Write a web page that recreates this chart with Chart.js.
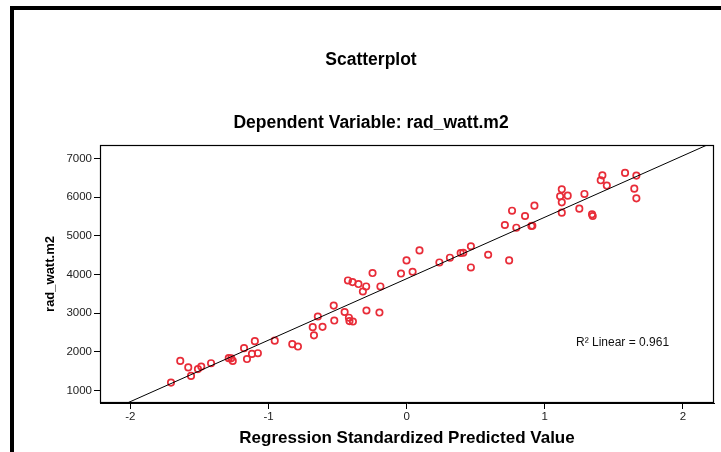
<!DOCTYPE html>
<html>
<head>
<meta charset="utf-8">
<script src="https://cdn.jsdelivr.net/npm/chart.js@4.4.1/dist/chart.umd.min.js"></script>
<style>
  html, body { margin: 0; padding: 0; background: #ffffff; }
  #wrap { width: 721px; height: 452px; }
</style>
</head>
<body>
<div id="wrap"><canvas id="c" width="721" height="452"></canvas></div>
<script>
// Regression standardized predicted value (x) and observed rad_watt.m2 (y)
const predictedZ = [
  -1.706, -1.639, -1.581, -1.561, -1.511, -1.487, -1.416, -1.288, -1.270, -1.259,
  -1.177, -1.156, -1.120, -1.099, -1.077, -0.955, -0.828, -0.787, -0.680, -0.671,
  -0.643, -0.609, -0.528, -0.524, -0.449, -0.418, -0.414, -0.389, -0.291, -0.197,
  -0.425, -0.392, -0.349, -0.293, -0.317, -0.247, -0.190, -0.041, -0.001, 0.043,
  0.093, 0.237, 0.313, 0.391, 0.410, 0.465, 0.465, 0.590, 0.742, 0.711,
  0.763, 0.794, 0.857, 0.903, 0.910, 0.925, 1.123, 1.111, 1.166, 1.123,
  1.123, 1.250, 1.287, 1.342, 1.347, 1.405, 1.417, 1.449, 1.581, 1.663,
  1.648, 1.663
];
const observedRad = [
  1207, 1769, 1601, 1381, 1557, 1621, 1709, 1839, 1834, 1769,
  2098, 1816, 1950, 2279, 1968, 2292, 2201, 2139, 2641, 2429,
  2916, 2649, 3198, 2812, 3032, 2885, 2797, 2786, 3071, 3019,
  3848, 3806, 3755, 3693, 3563, 4040, 3693, 4027, 4366, 4073,
  4625, 4314, 4436, 4557, 4565, 4733, 4184, 4513, 4366, 5282,
  5652, 5212, 5515, 5256, 5264, 5782, 6204, 6023, 6041, 5867,
  5601, 5704, 6085, 5557, 5515, 6437, 6566, 6300, 6629, 6559,
  6222, 5971
];
// Fit line (R² Linear = 0.961)
const fitIntercept = 3894;
const fitSlope = 1589;
const rSquared = 0.961;

const xTicks = [-2, -1, 0, 1, 2];
const yTicks = [1000, 2000, 3000, 4000, 5000, 6000, 7000];
const xMin = -2.22, xMax = 2.225;
const yMin = 680, yMax = 7350;

const titleText = 'Scatterplot';
const subtitleText = 'Dependent Variable: rad_watt.m2';
const xTitle = 'Regression Standardized Predicted Value';
const yTitle = 'rad_watt.m2';

const FONT = "'Liberation Sans', Arial, Helvetica, sans-serif";

const points = predictedZ.map((x, i) => ({ x: x, y: observedRad[i] }));
const fitLine = [xMin, xMax].map(x => ({ x: x, y: fitIntercept + fitSlope * x }));

const framePlugin = {
  id: 'frames',
  beforeDraw(chart) {
    const ctx = chart.ctx;
    ctx.save();
    ctx.fillStyle = '#ffffff';
    ctx.fillRect(0, 0, chart.width, chart.height);
    ctx.fillStyle = '#000000';
    ctx.fillRect(10, 6, 4, chart.height - 6);
    ctx.fillRect(10, 6, chart.width - 10, 4);
    ctx.restore();
  },
  afterDraw(chart) {
    const ctx = chart.ctx;
    const a = chart.chartArea;
    ctx.save();
    ctx.strokeStyle = '#000000';
    ctx.lineWidth = 1.2;
    ctx.strokeRect(a.left + 0.5, a.top + 0.5, a.right - a.left - 1, a.bottom - a.top - 1);
    ctx.fillStyle = '#111111';
    ctx.font = '12px ' + FONT;
    ctx.textBaseline = 'middle';
    ctx.textAlign = 'left';
    ctx.fillText('R\u00B2 Linear = ' + rSquared.toFixed(3), a.left + 476, a.top + 198);
    ctx.restore();
  }
};

new Chart(document.getElementById('c'), {
  type: 'scatter',
  data: {
    datasets: [
      {
        label: 'rad_watt.m2',
        data: points,
        showLine: false,
        pointStyle: 'circle',
        pointRadius: 3.2,
        pointHoverRadius: 3.2,
        pointBorderWidth: 1.7,
        borderColor: 'rgb(232,44,56)',
        backgroundColor: 'rgba(255,255,255,0)',
        order: 2
      },
      {
        label: 'fit',
        type: 'line',
        data: fitLine,
        borderColor: '#000000',
        borderWidth: 1,
        pointRadius: 0,
        fill: false,
        tension: 0,
        order: 1
      }
    ]
  },
  options: {
    responsive: false,
    animation: false,
    devicePixelRatio: 1,
    layout: { padding: { left: 28, right: 7, top: 0, bottom: 0 } },
    plugins: {
      legend: { display: false },
      tooltip: { enabled: false },
      title: {
        display: true,
        text: titleText,
        color: '#000000',
        font: { family: FONT, size: 17.5, weight: 'bold', lineHeight: 1.2 },
        padding: { top: 50, bottom: 0 }
      },
      subtitle: {
        display: true,
        text: subtitleText,
        color: '#000000',
        font: { family: FONT, size: 17.5, weight: 'bold', lineHeight: 1.2 },
        padding: { top: 42, bottom: 11 }
      }
    },
    scales: {
      x: {
        type: 'linear',
        min: xMin,
        max: xMax,
        afterBuildTicks(scale) { scale.ticks = xTicks.map(v => ({ value: v })); },
        afterFit(scale) { scale.height = 49; },
        ticks: {
          color: '#222222',
          font: { family: FONT, size: 11.5 },
          padding: 1,
          maxRotation: 0,
          callback: v => String(v)
        },
        grid: { drawOnChartArea: false, drawTicks: true, tickLength: 6, color: '#000000', tickWidth: 1 },
        border: { display: true, color: '#000000', width: 1 },
        title: {
          display: true,
          text: xTitle,
          color: '#000000',
          font: { family: FONT, size: 17, weight: 'bold', lineHeight: 1.2 },
          padding: { top: 0, bottom: 3.9 }
        }
      },
      y: {
        type: 'linear',
        min: yMin,
        max: yMax,
        afterBuildTicks(scale) { scale.ticks = yTicks.map(v => ({ value: v })); },
        afterFit(scale) { scale.width = 72; },
        ticks: {
          color: '#222222',
          font: { family: FONT, size: 11.5 },
          padding: 2,
          callback: v => String(v)
        },
        grid: { drawOnChartArea: false, drawTicks: true, tickLength: 6, color: '#000000', tickWidth: 1 },
        border: { display: true, color: '#000000', width: 1 },
        title: {
          display: true,
          text: yTitle,
          color: '#000000',
          font: { family: FONT, size: 13, weight: 'bold', lineHeight: 1.2 },
          padding: { top: 14.5, bottom: 0 }
        }
      }
    }
  },
  plugins: [framePlugin]
});
</script>
</body>
</html>
